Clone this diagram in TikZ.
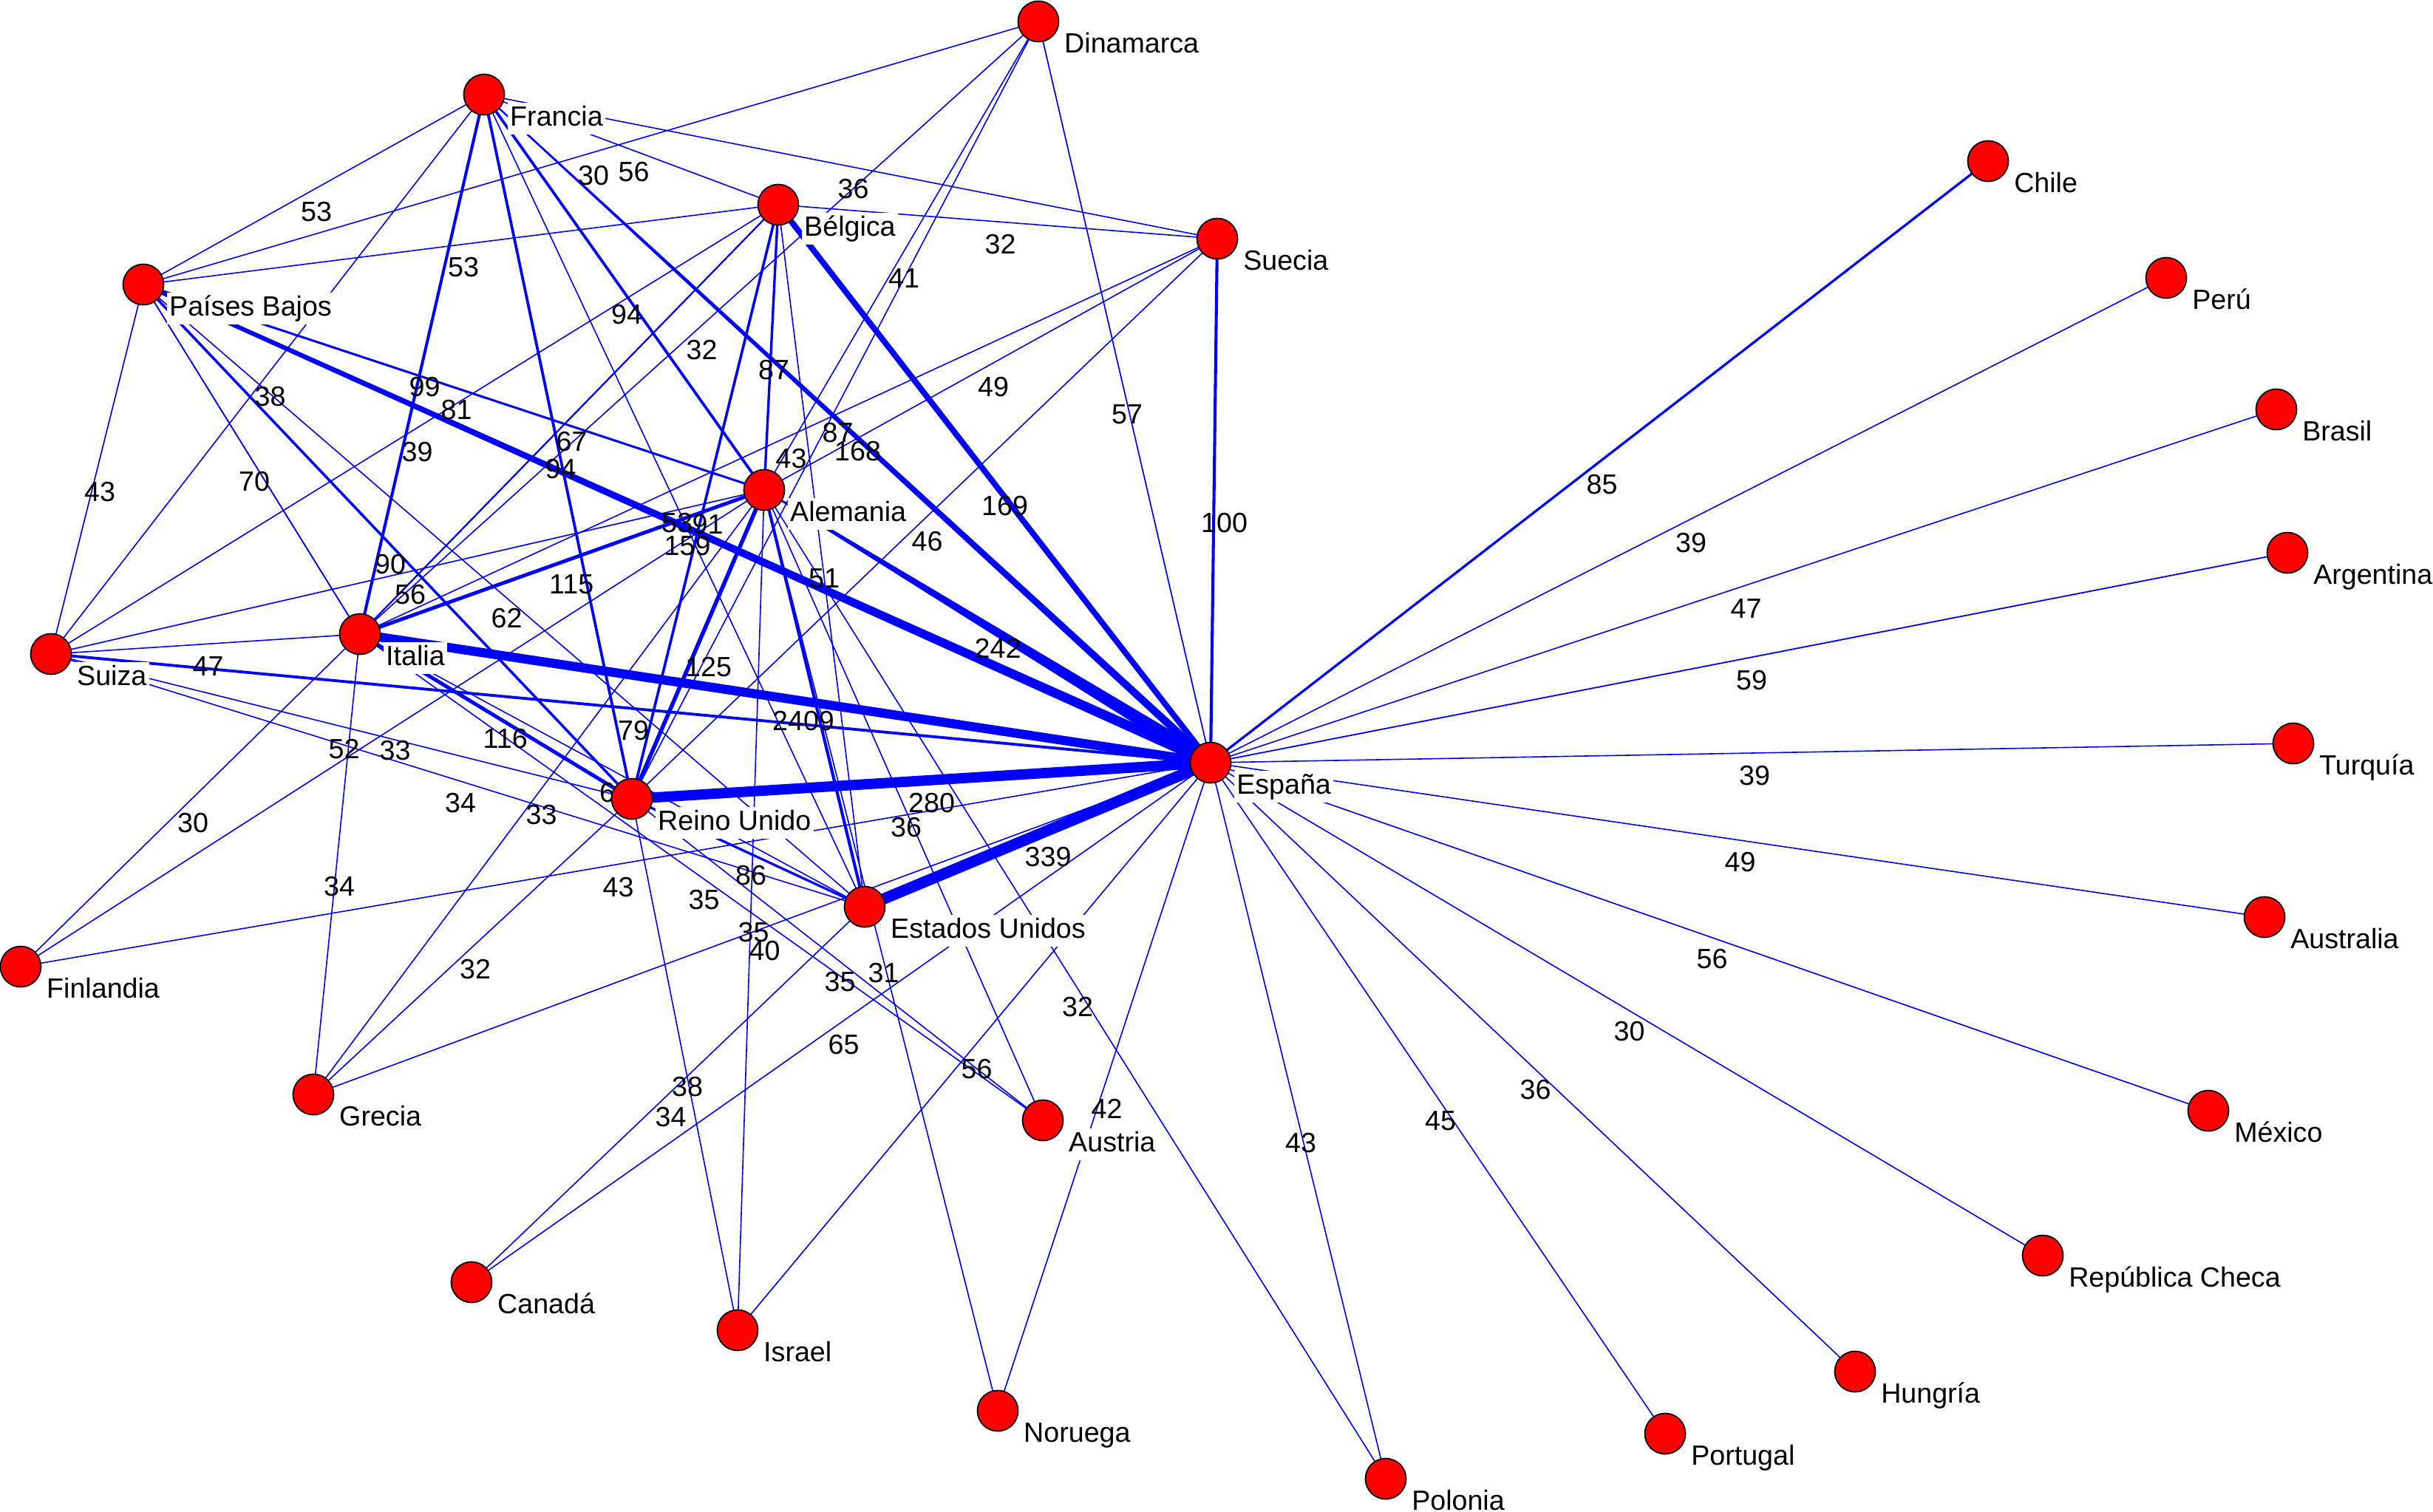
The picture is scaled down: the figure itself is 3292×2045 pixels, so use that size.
\documentclass[tikz,border=0pt]{standalone}
\usepackage{fontspec}
\setmainfont{Liberation Sans}
\usetikzlibrary{calc}
\pgfdeclarelayer{bgl}\pgfdeclarelayer{edges}\pgfdeclarelayer{elabels}
\pgfsetlayers{bgl,edges,elabels,main}
\definecolor{eblue}{RGB}{0,0,255}
\definecolor{nred}{RGB}{255,0,0}
\tikzset{
  country/.style={circle, fill=nred, draw=black, line width=0.5pt, minimum size=0.55cm, inner sep=0pt},
  cname/.style={anchor=base west, fill=white, inner sep=1pt, text height=7.8pt, text depth=2.3pt, font=\fontsize{10.7}{12.5}\selectfont},
  elab/.style={anchor=base west, inner sep=0pt, font=\fontsize{10.7}{12.5}\selectfont},
  link/.style={draw=eblue}
}
\newcommand\cnode[4]{\node[country] (#1) at (#2,#3) {};
  \node[cname] (#1-l) at ($(#1)+(31,42)$) {#4};}
\newcommand\edg[4]{\pgfmathsetmacro\lw{(1.6+max(0,min(#4,300)-55)*0.055)*0.2845}%
  \begin{pgfonlayer}{edges}\draw[link, line width=\lw pt] (#1.center) -- (#2.center);\end{pgfonlayer}%
  \begin{pgfonlayer}{elabels}\node[elab] (#1-#2-l) at ($(#1.center)!0.5!(#2.center)+(-18,43)$) {#3};\end{pgfonlayer}}
\newcommand\edgnl[3]{\pgfmathsetmacro\lw{(1.6+max(0,min(#3,300)-55)*0.055)*0.2845}%
  \begin{pgfonlayer}{edges}\draw[link, line width=\lw pt] (#1.center) -- (#2.center);\end{pgfonlayer}}
\newcommand\tedg[5]{%
  \begin{pgfonlayer}{edges}\fill[eblue] ($(#1.center)!#4*0.005cm!90:(#2.center)$) -- ($(#2.center)!#5*0.005cm!-90:(#1.center)$) -- ($(#2.center)!#5*0.005cm!90:(#1.center)$) -- ($(#1.center)!#4*0.005cm!-90:(#2.center)$) -- cycle;\end{pgfonlayer}%
  \begin{pgfonlayer}{elabels}\node[elab] (#1-#2-l) at ($(#1.center)!0.5!(#2.center)+(-18,43)$) {#3};\end{pgfonlayer}}
\begin{document}
\begin{tikzpicture}[x=0.01cm,y=-0.01cm]
\begin{pgfonlayer}{bgl}\fill[white] (0,0) rectangle (3292,2045);\end{pgfonlayer}
\useasboundingbox (0,0) rectangle (3292,2045);
% countries
\cnode{D}{1405}{29}{Dinamarca}
\cnode{F}{655}{128}{Francia}
\cnode{B}{1053}{277}{Bélgica}
\cnode{Su}{1647}{323}{Suecia}
\cnode{PB}{194}{385}{Países Bajos}
\cnode{Ch}{2690}{218}{Chile}
\cnode{Pe}{2931}{376}{Perú}
\cnode{Br}{3080}{554}{Brasil}
\cnode{Ar}{3095}{748}{Argentina}
\cnode{Al}{1034}{663}{Alemania}
\cnode{Sz}{69}{885}{Suiza}
\cnode{It}{487}{858}{Italia}
\cnode{Tu}{3103}{1006}{Turquía}
\cnode{E}{1638}{1032}{España}
\cnode{RU}{855}{1081}{Reino Unido}
\cnode{US}{1170}{1227}{Estados Unidos}
\cnode{Au}{3064}{1241}{Australia}
\cnode{Fi}{28}{1308}{Finlandia}
\cnode{Gr}{424}{1481}{Grecia}
\cnode{At}{1411}{1516}{Austria}
\cnode{Mx}{2988}{1503}{México}
\cnode{RC}{2764}{1699}{República Checa}
\cnode{Ca}{638}{1735}{Canadá}
\cnode{Is}{998}{1800}{Israel}
\cnode{Hu}{2510}{1856}{Hungría}
\cnode{No}{1350}{1909}{Noruega}
\cnode{Po}{2253}{1940}{Portugal}
\cnode{Pl}{1875}{2001}{Polonia}
% edges
\edg{PB}{D}{30}{30}
\edg{F}{B}{56}{56}
\edg{F}{Su}{36}{36}
\edg{F}{PB}{53}{53}
\edg{B}{Su}{32}{32}
\edg{PB}{B}{53}{53}
\edg{D}{Al}{41}{41}
\edg{F}{Al}{94}{94}
\edg{D}{It}{32}{32}
\edg{B}{Al}{87}{87}
\edg{Su}{Al}{49}{49}
\edg{F}{Sz}{38}{38}
\edg{F}{It}{99}{99}
\edg{PB}{Al}{81}{81}
\edg{D}{E}{57}{57}
\edg{D}{RU}{87}{50}
\edg{B}{It}{67}{67}
\tedg{F}{E}{168}{2}{11}
\edg{Sz}{B}{39}{39}
\edg{PB}{Sz}{43}{43}
\edg{PB}{It}{70}{60}
\edg{Su}{It}{43}{43}
\edg{F}{RU}{94}{94}
\edg{E}{Ch}{85}{85}
\edg{B}{E}{169}{169}
\edg{Su}{E}{100}{100}
\edg{F}{US}{53}{40}
\edg{B}{RU}{91}{91}
\tedg{PB}{E}{159}{5}{14}
\edg{Su}{RU}{46}{46}
\edg{E}{Pe}{39}{39}
\edg{PB}{RU}{90}{90}
\edg{Al}{It}{115}{115}
\edg{B}{US}{51}{51}
\edg{Sz}{Al}{56}{56}
\edg{E}{Br}{47}{47}
\edg{PB}{US}{62}{40}
\tedg{Al}{E}{242}{2}{20}
\edg{Al}{RU}{125}{125}
\edg{Sz}{It}{47}{47}
\edg{E}{Ar}{59}{59}
\edg{It}{E}{2409}{250}
\edg{Sz}{E}{79}{95}
\edg{It}{RU}{116}{116}
\edg{Sz}{RU}{52}{52}
\edg{Al}{Fi}{33}{33}
\edg{E}{Tu}{39}{39}
\edg{Sz}{US}{34}{34}
\edg{It}{US}{63}{45}
\edg{RU}{E}{280}{280}
\edg{Gr}{Al}{33}{33}
\edg{Fi}{It}{30}{30}
\edg{Al}{At}{36}{36}
\edg{US}{E}{339}{300}
\edg{E}{Au}{49}{49}
\edg{RU}{US}{86}{86}
\edg{Fi}{E}{43}{43}
\edg{It}{Gr}{34}{34}
\edg{It}{At}{35}{35}
\edg{Al}{Is}{35}{35}
\edg{Gr}{E}{40}{40}
\edg{E}{Mx}{56}{56}
\edg{Gr}{RU}{32}{32}
\edg{RU}{At}{35}{35}
\edg{Al}{No}{31}{31}
\edg{Al}{Pl}{32}{32}
\edg{E}{RC}{30}{30}
\edg{Ca}{E}{65}{50}
\edg{Is}{E}{56}{50}
\edg{E}{Hu}{36}{36}
\edg{RU}{Is}{38}{38}
\edg{Ca}{US}{34}{34}
\edg{E}{Po}{45}{45}
\edg{No}{E}{42}{42}
\edg{E}{Pl}{43}{43}
\edgnl{Al}{US}{100}
\end{tikzpicture}
\end{document}
